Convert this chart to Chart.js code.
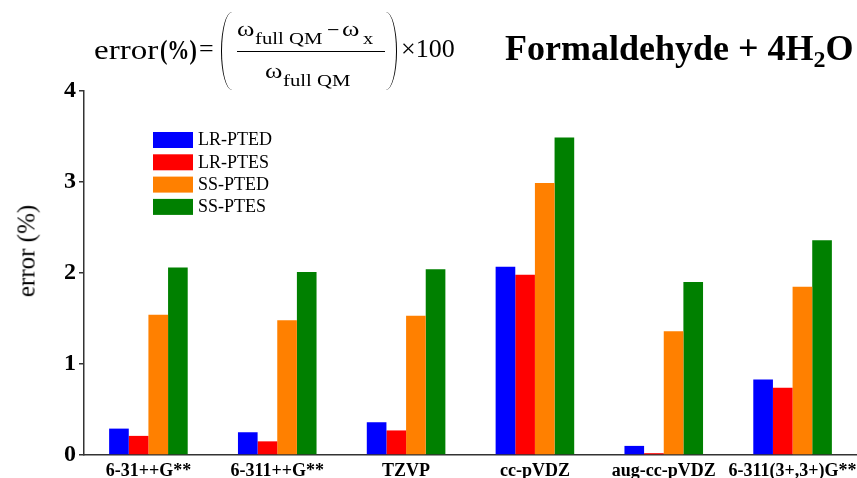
<!DOCTYPE html>
<html>
<head>
<meta charset="utf-8">
<script src="https://cdn.jsdelivr.net/npm/chart.js@4/dist/chart.umd.min.js"></script>
<style>
  html, body { margin: 0; padding: 0; background: #fff; }
  #wrap { position: relative; width: 857px; height: 478px; overflow: hidden; }
  #chart { position: absolute; left: 0; top: 0; }
  .t { position: absolute; white-space: nowrap; line-height: 1; color: #000;
       font-family: "Liberation Serif", "Times New Roman", serif; transform-origin: 0 0; }
  .paren { position: absolute; width: 11px; height: 78px; box-sizing: border-box; }
  #lp { left: 221px; top: 12px; border-left: 1.7px solid #000; border-radius: 11px 0 0 11px / 39px 0 0 39px; }
  #rp { left: 386px; top: 12px; border-right: 1.7px solid #000; border-radius: 0 11px 11px 0 / 0 39px 39px 0; }
  #bar { position: absolute; left: 237px; top: 51px; width: 148px; height: 1.3px; background: #000; }
</style>
</head>
<body>
<div id="wrap">
  <canvas id="chart" width="857" height="478"></canvas>
  <div class="paren" id="lp"></div>
  <div class="paren" id="rp"></div>
  <div id="bar"></div>
</div>
<script>
// basis sets on the x axis
const basisSets = ["6-31++G**", "6-311++G**", "TZVP", "cc-pVDZ", "aug-cc-pVDZ", "6-311(3+,3+)G**"];

// error (%) per method
const lrPted = [0.29, 0.25, 0.36, 2.07, 0.10, 0.83];
const lrPtes = [0.21, 0.15, 0.27, 1.98, 0.02, 0.74];
const ssPted = [1.54, 1.48, 1.53, 2.99, 1.36, 1.85];
const ssPtes = [2.06, 2.01, 2.04, 3.49, 1.90, 2.36];

const yTicks = [0, 1, 2, 3, 4];

const serif = '"Liberation Serif", "Times New Roman", serif';

// put a piece of text so that its baseline sits at y, optionally widened
function place(html, x, base, size, bold, sx) {
  const s = document.createElement("span");
  s.className = "t";
  s.innerHTML = html;
  s.style.left = x + "px";
  s.style.top = (base - 0.84 * size) + "px";
  s.style.fontSize = size + "px";
  if (bold) s.style.fontWeight = "bold";
  if (sx) s.style.transform = "scaleX(" + sx + ")";
  document.getElementById("wrap").appendChild(s);
  return s;
}

// formula header
place("error", 94, 60, 28, false, 1.18);
place("(%)", 160, 60, 27, true, 0.82);
place("=", 199, 58, 26);
place("&omega;", 237, 36, 22, false, 1.2);
place("full QM", 255, 44, 17, false, 1.22);
place("&minus;", 327, 37, 22);
place("&omega;", 342, 36, 22, false, 1.2);
place("x", 363, 44, 17, false, 1.2);
place("&omega;", 265, 78, 22, false, 1.2);
place("full QM", 283, 86, 17, false, 1.22);
place("&times;100", 401, 58, 26);

// plot title
place('Formaldehyde + 4H<span style="font-size:24px;position:relative;top:7px">2</span>O', 505, 60, 36, true);

// rotated y-axis title
const yt = place("error (%)", 0, 0, 25);
yt.style.left = "26px";
yt.style.top = "251px";
yt.style.transformOrigin = "50% 50%";
yt.style.transform = "translate(-50%, -50%) rotate(-90deg)";

// legend boxes drawn inside the plot area
const boxLegend = {
  id: "boxLegend",
  afterDraw(chart) {
    const ctx = chart.ctx;
    ctx.save();
    ctx.font = "18px " + serif;
    ctx.textBaseline = "middle";
    chart.data.datasets.forEach((ds, i) => {
      const y = 132 + i * 22.3;
      ctx.fillStyle = ds.backgroundColor;
      ctx.fillRect(153, y, 40, 16);
      ctx.fillStyle = "#000";
      ctx.fillText(ds.label, 198, y + 8.5);
    });
    ctx.restore();
  }
};

new Chart(document.getElementById("chart"), {
  type: "bar",
  data: {
    labels: basisSets,
    datasets: [
      { label: "LR-PTED", data: lrPted, backgroundColor: "#0000ff" },
      { label: "LR-PTES", data: lrPtes, backgroundColor: "#ff0000" },
      { label: "SS-PTED", data: ssPted, backgroundColor: "#ff8000" },
      { label: "SS-PTES", data: ssPtes, backgroundColor: "#008000" }
    ]
  },
  options: {
    responsive: false,
    animation: false,
    devicePixelRatio: 1,
    layout: { padding: { top: 91, left: 0, right: 0, bottom: 0 } },
    datasets: { bar: { barPercentage: 1.0, categoryPercentage: 0.61, borderWidth: 0 } },
    plugins: { legend: { display: false }, tooltip: { enabled: false } },
    scales: {
      x: {
        grid: { display: false, drawTicks: false },
        border: { display: true, color: "#333", width: 1.5 },
        ticks: { color: "#000", padding: 7, maxRotation: 0, autoSkip: false,
                 font: { family: serif, size: 18, weight: "bold", lineHeight: 1 } },
        afterFit: s => { s.height = 23; s.paddingLeft = 0; s.paddingRight = 0; }
      },
      y: {
        min: 0,
        max: 4,
        afterBuildTicks: s => { s.ticks = yTicks.map(v => ({ value: v })); },
        grid: { drawOnChartArea: false, drawTicks: true, tickLength: 5, color: "#333", lineWidth: 1.5 },
        border: { display: true, color: "#333", width: 1.5 },
        ticks: { color: "#000", padding: 3, font: { family: serif, size: 24, weight: "bold" } },
        afterFit: s => { s.width = 84; }
      }
    }
  },
  plugins: [boxLegend]
});
</script>
</body>
</html>
